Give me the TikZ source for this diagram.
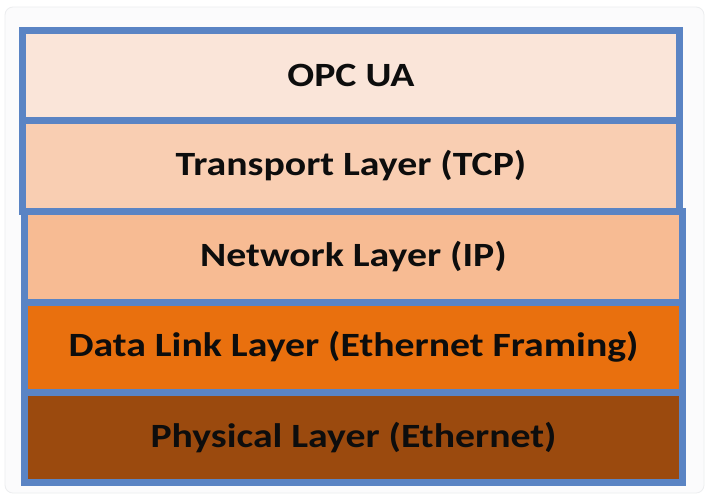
\documentclass[tikz,border=0pt]{standalone}
\usepackage{fontspec}
\setmainfont{Carlito}
\definecolor{edgeblue}{HTML}{5A84C4}
\definecolor{cOPC}{HTML}{FAE5D9}
\definecolor{cTCP}{HTML}{F9CEB2}
\definecolor{cIP}{HTML}{F7BB93}
\definecolor{cDL}{HTML}{E9700E}
\definecolor{cPHY}{HTML}{9B4A0E}
\definecolor{cardfill}{HTML}{FBFBFC}
\definecolor{cardedge}{HTML}{ECEDEF}
\newcommand{\wide}[1]{\scalebox{1.17}[1]{#1}}
\tikzset{
  layerbox/.style={draw=edgeblue, line width=7pt, rectangle, inner sep=0pt,
    font=\fontsize{34}{40}\selectfont\bfseries, text=black!95},
}
\begin{document}
\begin{tikzpicture}[x=1pt,y=-1pt]
\useasboundingbox (0,0) rectangle (706,499);
\fill[white] (0,0) rectangle (706,499);
\draw[cardedge, fill=cardfill, line width=0.8pt, rounded corners=8pt] (5,7) rectangle (704,493);
% layers, drawn bottom-up so the upper boxes' borders lie on top
\node[layerbox, fill=cPHY, minimum width=658pt, minimum height=89.5pt] (phy) at (353.5,437.25) {\wide{Physical Layer (Ethernet)}};
\node[layerbox, fill=cDL, minimum width=658pt, minimum height=90.5pt] (dl) at (353.5,347.25) {\wide{Data Link Layer (Ethernet Framing)}};
\node[layerbox, fill=cIP, minimum width=658pt, minimum height=91pt] (ip) at (353.5,256.5) {\wide{Network Layer (IP)}};
\node[layerbox, fill=cTCP, minimum width=657pt, minimum height=90.5pt] (tcp) at (351,165.75) {\wide{Transport Layer (TCP)}};
\node[layerbox, fill=cOPC, minimum width=657pt, minimum height=90pt] (opc) at (351,75.5) {\wide{OPC UA}};
\end{tikzpicture}
\end{document}
